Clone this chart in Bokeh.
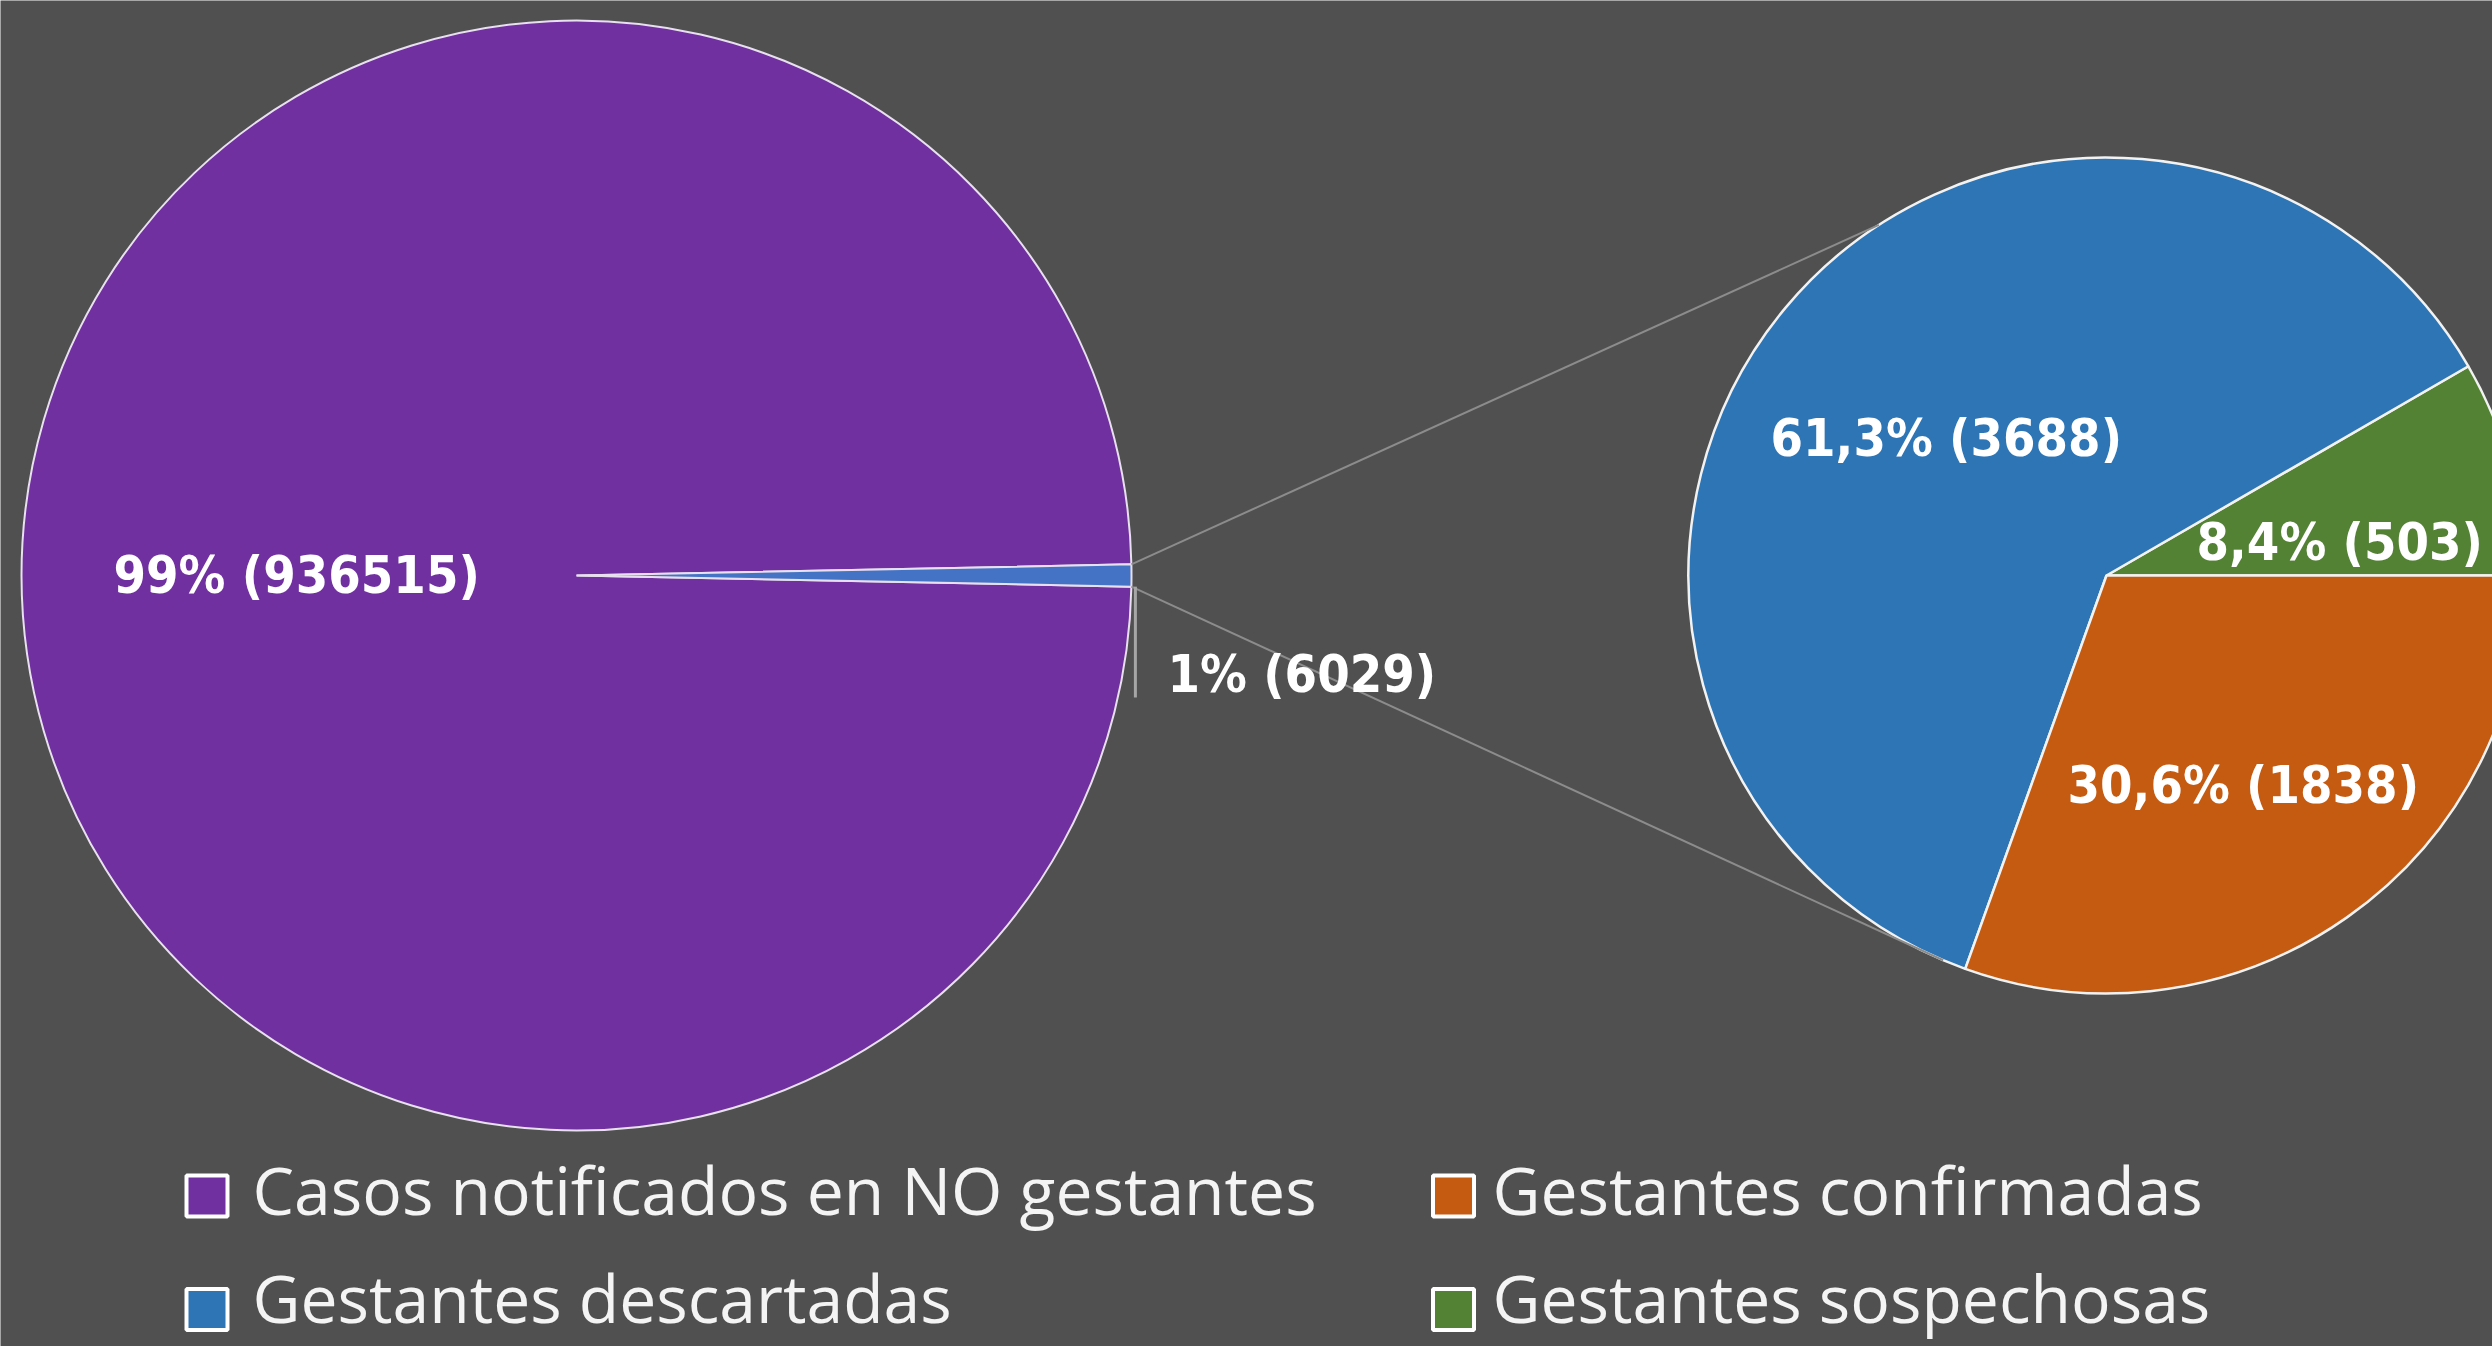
import math
from bokeh.plotting import figure
from bokeh.core.properties import value
from bokeh.embed import file_html
from bokeh.resources import INLINE

# ---------------- data ----------------
main_categories = ["Casos notificados en NO gestantes", "Gestantes"]
main_values = [936515, 6029]
main_pct = ["99%", "1%"]

sub_categories = ["Gestantes sospechosas", "Gestantes descartadas", "Gestantes confirmadas"]
sub_values = [503, 3688, 1838]
sub_pct = ["8,4%", "61,3%", "30,6%"]

legend_labels = ["Casos notificados en NO gestantes", "Gestantes confirmadas",
                 "Gestantes descartadas", "Gestantes sospechosas"]

# ---------------- styles ----------------
W, H = 2492, 1346
BG = "#505050"
main_colors = ["#7030A0", "#4472C4"]
sub_colors = ["#548235", "#2E75B6", "#C55A11"]
legend_colors = ["#7030A0", "#C55A11", "#2E75B6", "#548235"]
LABEL_FONT = "DejaVu Sans Condensed"
LEGEND_FONT = "Open Sans"


def Y(py):
    return H - py


p = figure(width=W, height=H, x_range=(0, W), y_range=(0, H),
           output_backend="svg", toolbar_location=None,
           x_axis_location=None, y_axis_location=None, min_border=0)
p.grid.visible = False
p.outline_line_color = None
p.background_fill_color = BG
p.border_fill_color = BG

# ---------- main pie ----------
mcx, mcy, mr = 576, Y(575), 555
tot = sum(main_values)
other_ang = 2 * math.pi * main_values[1] / tot
m_start = [other_ang / 2, -other_ang / 2]
m_end = [2 * math.pi - other_ang / 2, other_ang / 2]
p.wedge(x=[mcx, mcx], y=[mcy, mcy], radius=mr,
        start_angle=m_start, end_angle=m_end,
        fill_color=main_colors, line_color="#e8e0ee", line_width=2)

# ---------- secondary pie ----------
scx, scy, sr = 2106, Y(575), 418
stot = sum(sub_values)
s_start, s_end = [], []
acc = 0.0
for v in sub_values:
    a0 = 2 * math.pi * acc / stot
    acc += v
    a1 = 2 * math.pi * acc / stot
    s_start.append(a0)
    s_end.append(a1)
p.wedge(x=[scx] * 3, y=[scy] * 3, radius=sr,
        start_angle=s_start, end_angle=s_end,
        fill_color=sub_colors, line_color="#f2f2f2", line_width=2.5)

# ---------- connector lines ----------
ex0 = mcx + mr * math.cos(other_ang / 2)
ey_top = mcy + mr * math.sin(other_ang / 2)
ey_bot = mcy - mr * math.sin(other_ang / 2)
a_top = math.radians(123)
a_bot = math.radians(-113)
p.segment(x0=[ex0, ex0], y0=[ey_top, ey_bot],
          x1=[scx + sr * math.cos(a_top), scx + sr * math.cos(a_bot)],
          y1=[scy + sr * math.sin(a_top), scy + sr * math.sin(a_bot)],
          line_color="#8c8c8c", line_width=2)

# leader line of the 1% label
p.segment(x0=[ex0 + 4], y0=[ey_bot], x1=[ex0 + 4], y1=[Y(697)],
          line_color="#a6a6a6", line_width=3)

# ---------- data labels ----------
lab_x = [113, 1167, 2196, 1770, 2067]
lab_y = [Y(574), Y(673), Y(541), Y(437), Y(784)]
lab_text = [f"{main_pct[0]} ({main_values[0]})", f"{main_pct[1]} ({main_values[1]})"] + \
           [f"{pc} ({v})" for pc, v in zip(sub_pct, sub_values)]
p.text(x=lab_x, y=lab_y, text=lab_text, text_color="white",
       text_font=value(LABEL_FONT), text_font_style="bold",
       text_font_size="52px", text_align="left", text_baseline="middle")

# ---------- legend ----------
leg_sq_x = [206.5, 1453, 206.5, 1453]
leg_sq_y = [Y(1195.5), Y(1195.5), Y(1309), Y(1309)]
p.rect(x=leg_sq_x, y=leg_sq_y, width=41, height=41,
       fill_color=legend_colors, line_color="white", line_width=4)
leg_tx = [252, 1492, 252, 1492]
leg_ty = [Y(1188), Y(1188), Y(1296), Y(1296)]
p.text(x=leg_tx, y=leg_ty, text=legend_labels, text_color="#f4f4f4",
       text_font=value(LEGEND_FONT), text_font_size="66px",
       text_align="left", text_baseline="alphabetic")

open("out.html", "w").write(file_html(p, INLINE))
